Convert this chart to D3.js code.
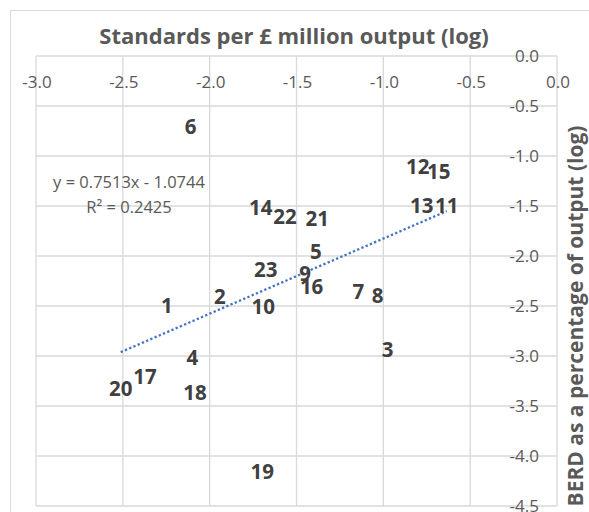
<!DOCTYPE html>
<html lang="en">
<head>
  <meta charset="UTF-8">
  <script src="https://d3js.org/d3.v7.min.js"></script>
  <style>
    body { margin: 0; background: #fff; }
    text { font-family: "Open Sans", sans-serif; }
  </style>
  <script>
    // sector numbers and their log values
    var labels = ['1','2','3','4','5','6','7','8','9','10','11','12','13','14','15','16','17','18','19','20','21','22','23'];
    var stdLog = [-2.247, -1.941, -0.975, -2.100, -1.389, -2.109, -1.144, -1.033, -1.451, -1.691, -0.635, -0.802,
                  -0.779, -1.706, -0.681, -1.413, -2.372, -2.084, -1.697, -2.512, -1.380, -1.566, -1.677];
    var berdLog = [-2.50, -2.41, -2.94, -3.02, -1.96, -0.71, -2.36, -2.40, -2.18, -2.51, -1.50, -1.11,
                   -1.50, -1.52, -1.16, -2.31, -3.21, -3.37, -4.16, -3.33, -1.63, -1.61, -2.14];
    var xTicks = [-3.0, -2.5, -2.0, -1.5, -1.0, -0.5, 0.0];
    var yTicks = [0.0, -0.5, -1.0, -1.5, -2.0, -2.5, -3.0, -3.5, -4.0, -4.5];
    var slope = 0.7513, intercept = -1.0744, r2 = 0.2425;

    function makeChart() {
      var svg = d3.select('#chart');
      var scX = d3.scaleLinear().domain([-3, 0]).range([36, 557]),
          scY = d3.scaleLinear().domain([0, -4.5]).range([56, 506]);
      var grey = '#d9d9d9', txt = '#595959';

      // chart border (runs off the right and bottom of the picture)
      svg.append('rect').attr('x', 10.5).attr('y', 10.5).attr('width', 620).attr('height', 540)
        .attr('fill', 'none').attr('stroke', grey);

      // gridlines
      svg.selectAll('line.gx').data(xTicks).enter().append('line')
        .attr('x1', d => scX(d)).attr('x2', d => scX(d))
        .attr('y1', scY(0)).attr('y2', scY(-4.5))
        .attr('stroke', grey).attr('stroke-width', 1.3);
      svg.selectAll('line.gy').data(yTicks).enter().append('line')
        .attr('y1', d => scY(d)).attr('y2', d => scY(d))
        .attr('x1', scX(-3)).attr('x2', scX(0))
        .attr('stroke', grey).attr('stroke-width', 1.3);

      // tick labels, drawn over the gridlines like the original
      svg.selectAll('text.tx').data(xTicks).enter().append('text')
        .attr('x', d => scX(d) + 1).attr('y', 82).attr('dy', '0.36em')
        .attr('text-anchor', 'middle').attr('font-size', 17).attr('fill', txt)
        .text(d => d3.format('.1f')(d).replace('−', '-'));
      svg.selectAll('text.ty').data(yTicks).enter().append('text')
        .attr('x', 539).attr('y', d => scY(d)).attr('dy', '0.36em')
        .attr('text-anchor', 'end').attr('font-size', 17).attr('fill', txt)
        .text(d => d3.format('.1f')(d).replace('−', '-'));

      // titles
      svg.append('text').attr('x', 294).attr('y', 44).attr('text-anchor', 'middle')
        .attr('font-size', 22).attr('font-weight', 'bold').attr('fill', txt)
        .text('Standards per £ million output (log)');
      svg.append('text').attr('transform', 'translate(583,316) rotate(-90)').attr('text-anchor', 'middle')
        .attr('font-size', 21).attr('font-weight', 'bold').attr('fill', txt)
        .text('BERD as a percentage of output (log)');

      // linear trendline over the data range
      var x0 = d3.min(stdLog), x1 = d3.max(stdLog);
      svg.append('line')
        .attr('x1', scX(x0)).attr('y1', scY(slope * x0 + intercept))
        .attr('x2', scX(x1)).attr('y2', scY(slope * x1 + intercept))
        .attr('stroke', '#4472c4').attr('stroke-width', 2.3).attr('stroke-dasharray', '2.3,2.3');

      svg.append('text').attr('x', 129).attr('y', 182).attr('dy', '0.36em').attr('text-anchor', 'middle')
        .attr('font-size', 16.5).attr('fill', txt)
        .text('y = ' + slope + 'x - ' + Math.abs(intercept));
      svg.append('text').attr('x', 129).attr('y', 207).attr('dy', '0.36em').attr('text-anchor', 'middle')
        .attr('font-size', 16.5).attr('fill', txt)
        .text('R² = ' + r2);

      // data labels centred on the (hidden) points
      var pts = labels.map((l, i) => [stdLog[i], berdLog[i], l]);
      svg.selectAll('text.pt').data(pts).enter().append('text')
        .attr('x', d => scX(d[0])).attr('y', d => scY(d[1])).attr('dy', '0.36em')
        .attr('text-anchor', 'middle').attr('font-size', 20.5).attr('font-weight', 'bold')
        .attr('fill', '#404040')
        .text(d => d[2]);
    }
  </script>
  <title>Standards vs BERD</title>
</head>
<body onload="makeChart()">
  <svg id="chart" width="589" height="512"></svg>
</body>
</html>
